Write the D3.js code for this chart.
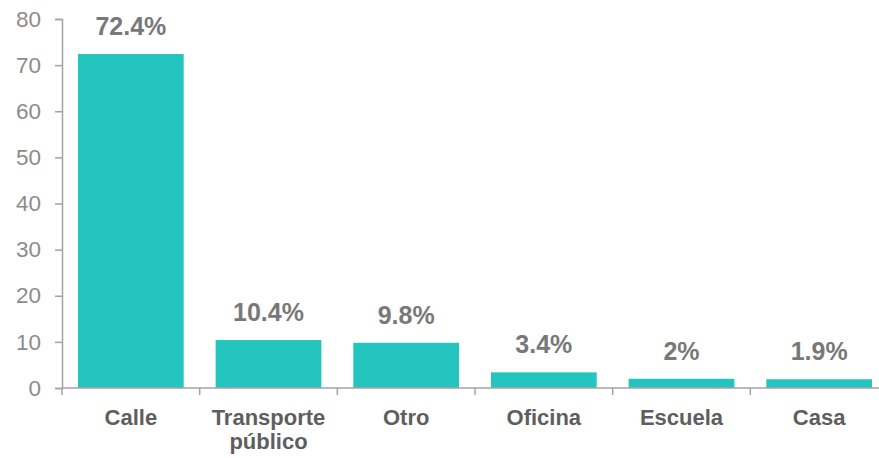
<!DOCTYPE html>
<html><head><meta charset="utf-8">
<script src="https://cdn.jsdelivr.net/npm/d3@7"></script>
<style>body{margin:0;background:#fff}svg{display:block}</style>
</head><body>
<svg id="c" width="879" height="458"></svg>
<script>
const categories = ["Calle", "Transporte público", "Otro", "Oficina", "Escuela", "Casa"];
const values = [72.4, 10.4, 9.8, 3.4, 2, 1.9];
const valueLabels = ["72.4%", "10.4%", "9.8%", "3.4%", "2%", "1.9%"];
const yTicks = [0, 10, 20, 30, 40, 50, 60, 70, 80];

const svg = d3.select("#c");
const font = "'Liberation Sans', Arial, Helvetica, sans-serif";
const axisColor = "#a3a3a3";

const x = d3.scaleBand().domain(categories).range([62, 888]).paddingInner(0.232).paddingOuter(0.116);
const y = d3.scaleLinear().domain([0, 80]).range([388, 19]);

// bars
svg.selectAll("rect.bar").data(values).join("rect")
  .attr("class", "bar")
  .attr("x", (d, i) => x(categories[i]))
  .attr("width", x.bandwidth())
  .attr("y", d => y(d))
  .attr("height", d => y(0) - y(d))
  .attr("fill", "#25c5bf");

// y axis
const ya = svg.append("g").attr("transform", "translate(62,0)")
  .call(d3.axisLeft(y).tickValues(yTicks).tickSize(7).tickPadding(14));
ya.select(".domain").attr("stroke", axisColor).attr("stroke-width", 1.5);
ya.selectAll(".tick line").attr("stroke", axisColor).attr("stroke-width", 1.5);
ya.selectAll(".tick text").attr("fill", "#8c8c8c").attr("font-size", 22.5).attr("font-family", font);

// x axis line and boundary ticks
svg.append("line").attr("x1", 62).attr("x2", 888).attr("y1", y(0)).attr("y2", y(0))
  .attr("stroke", axisColor).attr("stroke-width", 1.5);
const bounds = categories.map(c => x(c) - x.step() * x.paddingInner() / 2);
bounds[0] = 62;
svg.selectAll("line.xt").data(bounds).join("line").attr("class", "xt")
  .attr("x1", d => d).attr("x2", d => d).attr("y1", y(0)).attr("y2", y(0) + 7)
  .attr("stroke", axisColor).attr("stroke-width", 1.5);

// category labels
const cl = svg.selectAll("text.cat").data(categories).join("text").attr("class", "cat")
  .attr("x", d => x(d) + x.bandwidth() / 2)
  .attr("y", 425)
  .attr("text-anchor", "middle")
  .attr("font-family", font).attr("font-weight", "bold").attr("font-size", 22)
  .attr("fill", "#5e5e5e");
cl.each(function(d) {
  const parts = d === "Transporte público" ? ["Transporte", "público"] : [d];
  const t = d3.select(this);
  parts.forEach((p, i) => t.append("tspan").attr("x", x(d) + x.bandwidth() / 2).attr("dy", i === 0 ? 0 : 24).text(p));
});

// value labels
svg.selectAll("text.val").data(values).join("text").attr("class", "val")
  .attr("x", (d, i) => x(categories[i]) + x.bandwidth() / 2)
  .attr("y", d => y(d) - 19)
  .attr("text-anchor", "middle")
  .attr("font-family", font).attr("font-weight", "bold").attr("font-size", 25)
  .attr("fill", "#787878")
  .text((d, i) => valueLabels[i]);
</script>
</body></html>
